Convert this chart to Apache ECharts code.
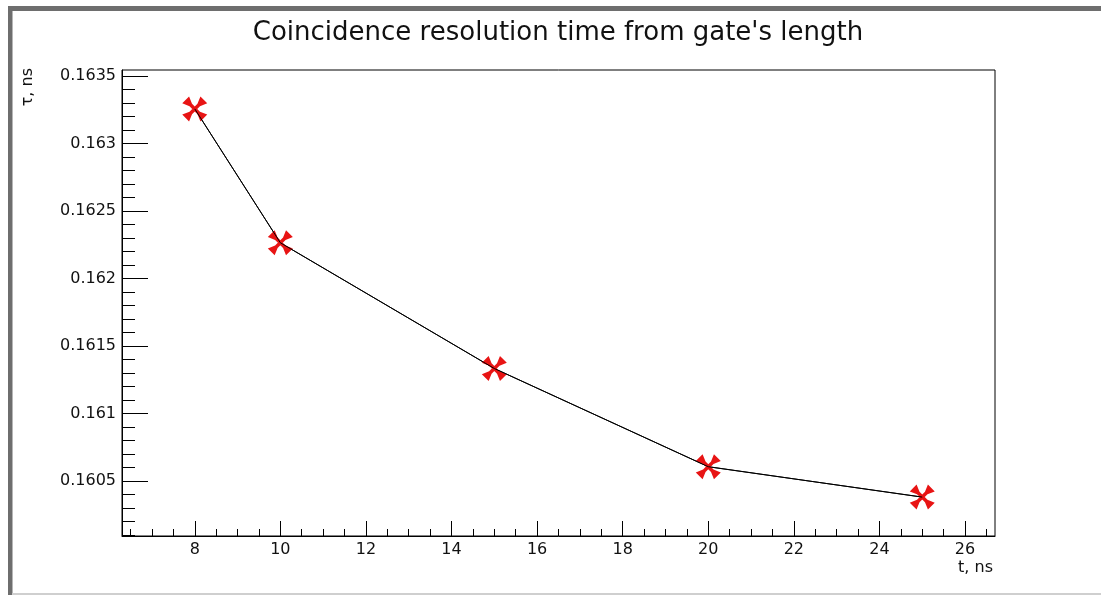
<!DOCTYPE html>
<html>
<head>
<meta charset="utf-8">
<script src="https://cdn.jsdelivr.net/npm/echarts@6/dist/echarts.min.js"></script>
<style>
html,body{margin:0;padding:0;background:#fff;}
#chart{width:1101px;height:595px;}
</style>
</head>
<body>
<div id="chart"></div>
<script>
// ---- data ----
const gateLength = [8, 10, 15, 20, 25];                       // t, ns
const resolution = [0.163256, 0.162265, 0.161334, 0.160607, 0.160382]; // tau, ns
const xTickLabels = [8, 10, 12, 14, 16, 18, 20, 22, 24, 26];
const yTickLabels = [0.1605, 0.161, 0.1615, 0.162, 0.1625, 0.163, 0.1635];
const xRange = [6.3, 26.7];
const yRange = [0.160094, 0.163544];
const titleText = "Coincidence resolution time from gate's length";
const xName = "t, ns";
const yName = "τ, ns";

// minor tick positions (axis structure)
function minors(lo, hi, step, majors) {
  const out = [];
  const start = Math.ceil(lo / step - 1e-9);
  for (let k = start; k * step <= hi + 1e-12; k++) {
    const v = +(k * step).toFixed(6);
    if (!majors.some(m => Math.abs(m - v) < 1e-9)) out.push(v);
  }
  return out;
}
const xMinor = minors(xRange[0], xRange[1], 0.5, xTickLabels);
const yMinor = minors(yRange[0], yRange[1], 0.0001, yTickLabels);

const FONT = 'DejaVu Sans';
const TXT = '#111';
const chart = echarts.init(document.getElementById('chart'), null, {renderer: 'canvas'});

const markerPath = 'path://' +
  'M21.56,18.44L16.61,13.49L12.93,4.45L4.45,12.93L13.49,16.61L18.44,21.56Z' +
  'M21.56,21.56L26.51,16.61L35.55,12.93L27.07,4.45L23.39,13.49L18.44,18.44Z' +
  'M18.44,18.44L13.49,23.39L4.45,27.07L12.93,35.55L16.61,26.51L21.56,21.56Z' +
  'M18.44,21.56L23.39,26.51L27.07,35.55L35.55,27.07L26.51,23.39L21.56,18.44Z';

const points = gateLength.map((x, i) => [x, resolution[i]]);

chart.setOption({
  animation: false,
  backgroundColor: '#ffffff',
  title: {
    text: titleText,
    left: 553,
    textAlign: 'center',
    top: 15,
    textStyle: {fontFamily: FONT, fontSize: 26, fontWeight: 'normal', color: TXT}
  },
  grid: {
    left: 122, right: 106, top: 70, bottom: 59,
    show: true, borderColor: '#000', borderWidth: 1, backgroundColor: 'transparent',
    containLabel: false
  },
  xAxis: [{
    type: 'value', min: xRange[0], max: xRange[1],
    position: 'bottom',
    splitLine: {show: false},
    axisLine: {show: true, onZero: false, lineStyle: {color: '#000', width: 1}},
    axisTick: {show: true, inside: true, length: 15, customValues: xTickLabels, lineStyle: {color: '#000', width: 1}},
    axisLabel: {show: true, customValues: xTickLabels, margin: 6, fontFamily: FONT, fontSize: 16, color: TXT,
      formatter: v => String(v)},
    name: xName, nameLocation: 'end', nameGap: -2,
    nameTextStyle: {fontFamily: FONT, fontSize: 16, color: TXT, align: 'right', verticalAlign: 'top', padding: [24, 0, 0, 0]}
  }, {
    type: 'value', min: xRange[0], max: xRange[1],
    position: 'bottom',
    splitLine: {show: false},
    axisLine: {show: false, onZero: false},
    axisTick: {show: true, inside: true, length: 7, customValues: xMinor, lineStyle: {color: '#000', width: 1}},
    axisLabel: {show: false}
  }],
  yAxis: [{
    type: 'value', min: yRange[0], max: yRange[1],
    position: 'left',
    splitLine: {show: false},
    axisLine: {show: true, onZero: false, lineStyle: {color: '#000', width: 1}},
    axisTick: {show: true, inside: true, length: 26, customValues: yTickLabels, lineStyle: {color: '#000', width: 1}},
    axisLabel: {show: true, customValues: yTickLabels, margin: 6, fontFamily: FONT, fontSize: 16, color: TXT,
      formatter: v => String(+(+v).toFixed(6))}
  }, {
    type: 'value', min: yRange[0], max: yRange[1],
    position: 'left',
    splitLine: {show: false},
    axisLine: {show: false, onZero: false},
    axisTick: {show: true, inside: true, length: 13, customValues: yMinor, lineStyle: {color: '#000', width: 1}},
    axisLabel: {show: false}
  }],
  series: [{
    type: 'line',
    xAxisIndex: 0, yAxisIndex: 0,
    data: points,
    lineStyle: {color: '#000', width: 1},
    symbol: markerPath,
    symbolSize: 25,
    itemStyle: {color: '#e81414'},
    z: 3
  }, {
    type: 'line',
    xAxisIndex: 0, yAxisIndex: 0,
    data: points,
    lineStyle: {color: '#000', width: 1},
    symbol: 'none',
    z: 4,
    silent: true
  }],
  graphic: [
    {type: 'rect', shape: {x: 8, y: 6, width: 1093, height: 5}, style: {fill: '#6e6e6e'}, silent: true},
    {type: 'rect', shape: {x: 8, y: 6, width: 4.5, height: 589}, style: {fill: '#6e6e6e'}, silent: true},
    {type: 'rect', shape: {x: 12, y: 593, width: 1089, height: 2}, style: {fill: '#cfcfcf'}, silent: true},
    {type: 'text', x: 28, y: 68, rotation: Math.PI / 2,
      style: {text: yName, fontFamily: FONT, fontSize: 16, fill: TXT, align: 'right', verticalAlign: 'middle'}}
  ]
});
</script>
</body>
</html>
